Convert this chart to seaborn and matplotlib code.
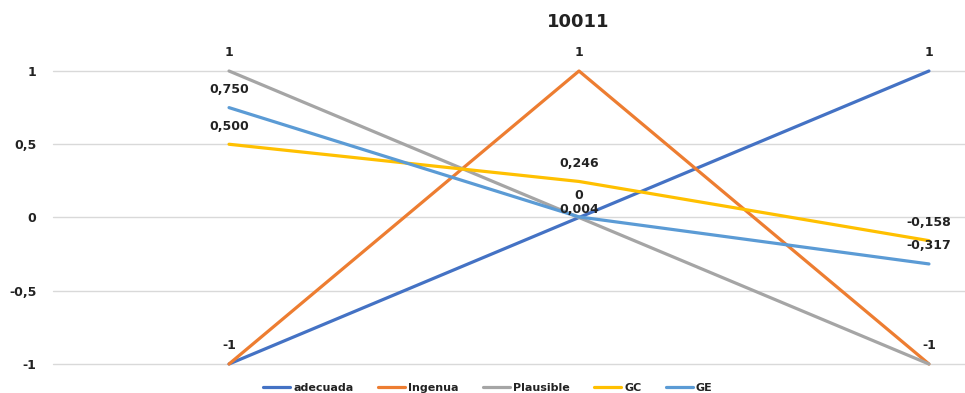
import matplotlib
matplotlib.use("Agg")
import matplotlib.pyplot as plt
import seaborn as sns
import pandas as pd
from matplotlib.lines import Line2D

# Series values at the three positions
positions = [0, 1, 2]
series_names = ["adecuada", "Ingenua", "Plausible", "GC", "GE"]
adecuada = [-1, 0, 1]
ingenua = [-1, 1, -1]
plausible = [1, 0, -1]
gc = [0.500, 0.246, -0.158]
ge = [0.750, 0.004, -0.317]
colors = ["#4472C4", "#ED7D31", "#A5A5A5", "#FFC000", "#5B9BD5"]
y_ticks = [-1, -0.5, 0, 0.5, 1]
y_tick_labels = ["-1", "-0,5", "0", "0,5", "1"]
title = "10011"

values = [adecuada, ingenua, plausible, gc, ge]
df = pd.DataFrame(
    [(name, x, v) for name, vals in zip(series_names, values) for x, v in zip(positions, vals)],
    columns=["serie", "pos", "valor"],
)

sns.set_theme(style="white")
plt.rcParams["font.family"] = ["DejaVu Sans"]

fig = plt.figure(figsize=(9.65, 3.93), dpi=100)
ax = fig.add_axes([53 / 965, 1 - 364 / 393, 1 - 53 / 965, (364 - 71) / 393])

sns.lineplot(
    data=df, x="pos", y="valor", hue="serie", hue_order=series_names,
    palette=colors, linewidth=2.3, sort=False, legend=False, ax=ax,
)
for line in ax.lines:
    line.set_clip_on(False)
    line.set_solid_capstyle("round")

ax.set_xlim(-0.503, 2.103)
ax.set_ylim(-1, 1)
ax.set_yticks(y_ticks)
ax.set_yticklabels(y_tick_labels, fontsize=9, fontweight="bold", color="#222222")
ax.set_xticks([])
ax.set_xlabel("")
ax.set_ylabel("")
ax.tick_params(axis="y", length=0, pad=12)
ax.yaxis.grid(True, color="#D9D9D9", linewidth=1)
ax.set_axisbelow(True)
for g in ax.yaxis.get_gridlines():
    g.set_clip_on(False)
for s in ax.spines.values():
    s.set_visible(False)

def fmt_int(v):
    return f"{v:d}"

def fmt3(v):
    return f"{v:.3f}".replace(".", ",")

# Data labels: (x, value, text, offset in points)
labels = [
    (0, plausible[0], fmt_int(plausible[0]), 13),
    (1, ingenua[1], fmt_int(ingenua[1]), 13),
    (2, adecuada[2], fmt_int(adecuada[2]), 13),
    (0, adecuada[0], fmt_int(adecuada[0]), 13),
    (2, ingenua[2], fmt_int(ingenua[2]), 13),
    (1, plausible[1], fmt_int(plausible[1]), 15.5),
    (0, gc[0], fmt3(gc[0]), 13),
    (1, gc[1], fmt3(gc[1]), 13),
    (2, gc[2], fmt3(gc[2]), 13),
    (0, ge[0], fmt3(ge[0]), 13),
    (1, ge[1], fmt3(ge[1]), 5.5),
    (2, ge[2], fmt3(ge[2]), 13),
]
for x, v, txt, off in labels:
    ax.annotate(txt, (x, v), xytext=(0, off), textcoords="offset points",
                ha="center", va="center", fontsize=9, fontweight="bold",
                color="#222222", annotation_clip=False)

fig.text(578 / 965, 1 - 22 / 393, title, ha="center", va="center",
         fontsize=13, fontweight="bold", color="#222222")

handles = [Line2D([0], [0], color=c, linewidth=2.3) for c in colors]
leg = fig.legend(handles, series_names, loc="center", bbox_to_anchor=(488 / 965, 1 - 388 / 393),
                 ncol=5, frameon=False, handlelength=2.4, handletextpad=0.3,
                 columnspacing=2.2, prop={"size": 8, "weight": "bold"})
for t in leg.get_texts():
    t.set_color("#222222")

fig.savefig("out.png", dpi=100)
